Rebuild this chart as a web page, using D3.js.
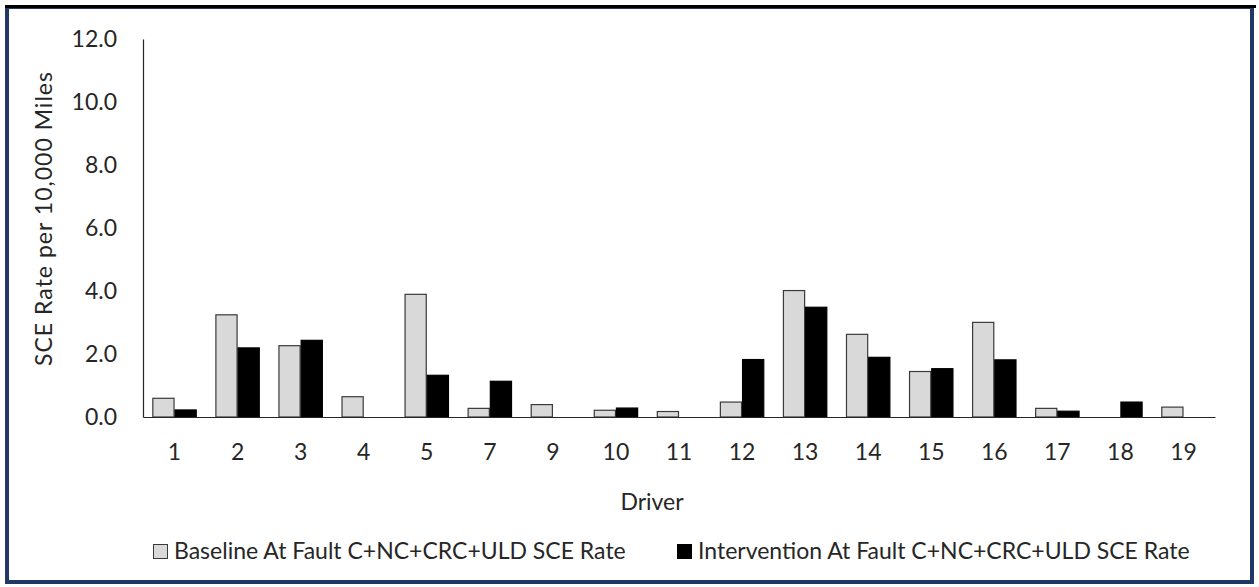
<!DOCTYPE html>
<html>
<head>
<meta charset="utf-8">
<script src="https://cdn.jsdelivr.net/npm/d3@7"></script>
<style>
  html, body { margin: 0; padding: 0; background: #fff; }
  svg { display: block; }
  text { font-family: Lato, "Open Sans", sans-serif; fill: #262626; }
</style>
</head>
<body>
<svg id="chart" width="1259" height="587"></svg>
<script>
// SCE rates per 10,000 miles for each driver
const drivers = ["1", "2", "3", "4", "5", "7", "9", "10", "11", "12", "13", "14", "15", "16", "17", "18", "19"];
const baselineRate = [0.61, 3.26, 2.28, 0.66, 3.91, 0.29, 0.41, 0.23, 0.19, 0.49, 4.03, 2.64, 1.46, 3.02, 0.29, 0.0, 0.33];
const interventionRate = [0.24, 2.21, 2.45, 0.0, 1.34, 1.15, 0.0, 0.30, 0.0, 1.84, 3.50, 1.91, 1.55, 1.83, 0.20, 0.49, 0.0];
const seriesNames = ["Baseline At Fault C+NC+CRC+ULD SCE Rate", "Intervention At Fault C+NC+CRC+ULD SCE Rate"];
const yTicks = [0, 2, 4, 6, 8, 10, 12];

const seriesFill = ["#d9d9d9", "#000000"];
const seriesStroke = ["#3a3a3a", "#000000"];
const fontSize = "23px";

const svg = d3.select("#chart");
const W = 1259, H = 587;

// outer frame
svg.append("rect")
  .attr("x", 7).attr("y", 7).attr("width", W - 14).attr("height", H - 12)
  .attr("fill", "#fff").attr("stroke", "#1f3864").attr("stroke-width", 4);
svg.append("line")
  .attr("x1", 5).attr("x2", W - 3).attr("y1", 6.5).attr("y2", 6.5)
  .attr("stroke", "#000").attr("stroke-width", 3);

const plot = { left: 143, right: 1215, top: 39, bottom: 417 };

const x = d3.scaleBand()
  .domain(drivers)
  .range([plot.left, plot.right])
  .paddingInner(0.296)
  .paddingOuter(0.148);

const xs = d3.scaleBand()
  .domain([0, 1])
  .range([0, x.bandwidth()]);

const y = d3.scaleLinear()
  .domain([0, 12])
  .range([plot.bottom, plot.top]);

const rows = drivers.map((d, i) => ({ driver: d, values: [baselineRate[i], interventionRate[i]] }));

// bars
const groups = svg.append("g").selectAll("g")
  .data(rows)
  .join("g")
  .attr("transform", d => `translate(${x(d.driver)},0)`);

groups.selectAll("rect")
  .data(d => d.values.map((v, k) => ({ v, k })).filter(o => o.v > 0))
  .join("rect")
  .attr("x", o => xs(o.k) + 0.5)
  .attr("y", o => y(o.v) + 0.5)
  .attr("width", xs.bandwidth() - 1)
  .attr("height", o => y(0) - y(o.v) - 0.5)
  .attr("fill", o => seriesFill[o.k])
  .attr("stroke", o => seriesStroke[o.k])
  .attr("stroke-width", 1.2);

// y axis
const yAxis = svg.append("g")
  .attr("transform", `translate(${plot.left},0)`)
  .call(d3.axisLeft(y).tickValues(yTicks).tickFormat(d3.format(".1f")).tickSize(0).tickPadding(26));
yAxis.select(".domain").attr("stroke", "#262626").attr("stroke-width", 1.2);
yAxis.selectAll("text").style("font-size", fontSize).attr("fill", "#262626");

// x axis
const xAxis = svg.append("g")
  .attr("transform", `translate(0,${plot.bottom})`)
  .call(d3.axisBottom(x).tickSize(0).tickPadding(27));
xAxis.select(".domain").attr("stroke", "#262626").attr("stroke-width", 1.2);
xAxis.selectAll("text").style("font-size", fontSize).attr("fill", "#262626");

// axis titles
svg.append("text")
  .attr("transform", `translate(52,219) rotate(-90)`)
  .attr("text-anchor", "middle")
  .attr("textLength", 294)
  .attr("lengthAdjust", "spacing")
  .style("font-size", fontSize)
  .text("SCE Rate per 10,000 Miles");

svg.append("text")
  .attr("x", 652).attr("y", 510)
  .attr("text-anchor", "middle")
  .style("font-size", fontSize)
  .text("Driver");

// legend
const legendX = [153, 677];
const legend = svg.append("g");
seriesNames.forEach((name, k) => {
  legend.append("rect")
    .attr("x", legendX[k] + 0.5).attr("y", 544.5)
    .attr("width", 14).attr("height", 14)
    .attr("fill", seriesFill[k]).attr("stroke", seriesStroke[k]).attr("stroke-width", 1);
  legend.append("text")
    .attr("x", legendX[k] + 21).attr("y", 559)
    .style("font-size", fontSize)
    .text(name);
});
</script>
</body>
</html>
